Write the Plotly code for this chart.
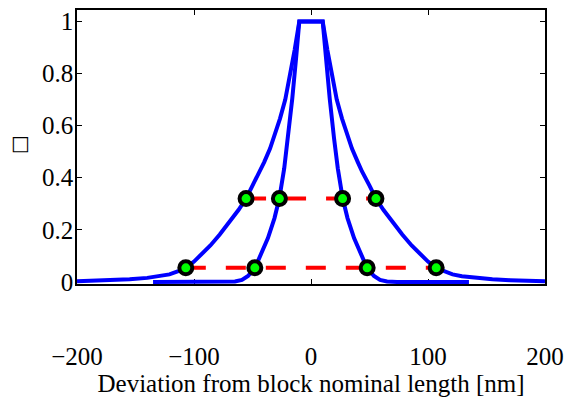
import plotly.graph_objects as go

# Wide (outer) profile
wide_x = [-200, -185, -170, -155, -140, -129, -121, -114, -107, -100, -94, -86, -78, -70, -62, -55.5,
          -50, -43.6, -40, -35, -30, -26.5, -22, -18, -14, -10,
          10, 14, 18, 22, 26.5, 30, 35, 40, 43.6, 50,
          55.5, 62, 70, 78, 86, 94, 100, 107, 114, 121, 129, 140, 155, 170, 185, 200]
wide_y = [0.0025, 0.004, 0.0065, 0.010, 0.0155, 0.022, 0.029, 0.040, 0.053, 0.078, 0.103, 0.14, 0.182, 0.228, 0.276, 0.32,
          0.37, 0.424, 0.46, 0.512, 0.575, 0.627, 0.70, 0.79, 0.89, 1.0,
          1.0, 0.89, 0.79, 0.70, 0.627, 0.575, 0.512, 0.46, 0.424, 0.37,
          0.32, 0.276, 0.228, 0.182, 0.14, 0.103, 0.078, 0.053, 0.040, 0.029, 0.022, 0.0155, 0.010, 0.0065, 0.004, 0.0025]

# Narrow (inner) profile
narrow_x = [-135, -73.5, -65.0, -59.0, -53.8, -47.9, -44.0, -36.8, -31.2, -27.1, -22.9, -19.7, -16.0, -12.8, -10,
            10, 12.8, 16.0, 19.7, 22.9, 27.1, 31.2, 36.8, 44.0, 47.9, 53.8, 59.0, 65.0, 73.5, 135]
narrow_y = [0, 0, 0.002, 0.0076, 0.023, 0.054, 0.092, 0.168, 0.245, 0.32, 0.436, 0.551, 0.704, 0.857, 1.0,
            1.0, 0.857, 0.704, 0.551, 0.436, 0.32, 0.245, 0.168, 0.092, 0.054, 0.023, 0.0076, 0.002, 0, 0]

# Width levels (red dashed) and crossing points (green markers)
upper_level = 0.32
lower_level = 0.054
upper_x = [-55.5, -27, 27, 55.5]
lower_x = [-107, -48, 48, 107]

x_ticks = [-200, -100, 0, 100, 200]
x_ticklabels = ["\u2212200", "\u2212100", "0", "100", "200"]
y_ticks = [0, 0.2, 0.4, 0.6, 0.8, 1]
y_ticklabels = ["0", "0.2", "0.4", "0.6", "0.8", "1"]
x_title = "Deviation from block nominal length [nm]"
y_title = "\u25A1"

blue = "#0000FF"
font = "Liberation Serif"

fig = go.Figure()
fig.add_trace(go.Scatter(x=wide_x, y=wide_y, mode="lines",
                         line=dict(color=blue, width=4)))
fig.add_trace(go.Scatter(x=narrow_x, y=narrow_y, mode="lines",
                         line=dict(color=blue, width=4)))
fig.add_trace(go.Scatter(x=[upper_x[0], upper_x[-1]], y=[upper_level, upper_level], mode="lines",
                         line=dict(color="#FF0000", width=4, dash="20px,20px")))
fig.add_trace(go.Scatter(x=[lower_x[0], lower_x[-1]], y=[lower_level, lower_level], mode="lines",
                         line=dict(color="#FF0000", width=4, dash="20px,20px")))
fig.add_trace(go.Scatter(x=upper_x + lower_x,
                         y=[upper_level] * len(upper_x) + [lower_level] * len(lower_x),
                         mode="markers",
                         marker=dict(size=13, color="#00FF00", line=dict(color="black", width=4)),
                         cliponaxis=False))

fig.add_annotation(text=y_title, xref="paper", yref="paper", x=-0.12, y=0.515,
                   showarrow=False, xanchor="center", yanchor="middle",
                   font=dict(family="DejaVu Sans", size=20, color="black"))

fig.update_layout(
    width=565, height=399,
    margin=dict(l=77, r=20, t=10, b=115, autoexpand=False),
    paper_bgcolor="white", plot_bgcolor="white",
    showlegend=False, hovermode=False,
    font=dict(family=font, size=25, color="black"),
    xaxis=dict(range=[-200, 200], tickvals=x_ticks, ticktext=x_ticklabels,
               ticks="inside", ticklen=5, tickwidth=1, tickcolor="black",
               showline=True, linecolor="black", linewidth=1.5, mirror="ticks",
               showgrid=False, zeroline=False, ticklabelstandoff=49, automargin=False,
               layer="below traces",
               title=dict(text=x_title, standoff=4,
                          font=dict(family=font, size=25))),
    yaxis=dict(range=[-0.008, 1.044], tickvals=y_ticks, ticktext=y_ticklabels,
               ticks="inside", ticklen=5, tickwidth=1, tickcolor="black",
               showline=True, linecolor="black", linewidth=1.5, mirror="ticks",
               showgrid=False, zeroline=False, ticklabelstandoff=-3, automargin=False,
               layer="below traces"),
)

fig.write_html("out.html", config={"displayModeBar": False},
               post_script="document.body.style.margin='0';")
